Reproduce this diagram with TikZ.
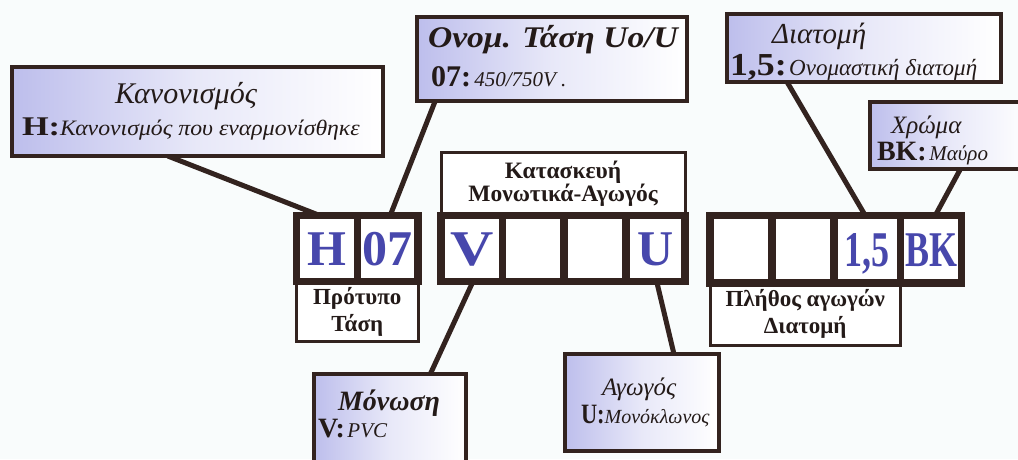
\documentclass[tikz,border=0pt]{standalone}
\usepackage{fontspec}
\usepackage{graphicx}
\setmainfont{Liberation Serif}
\newfontfamily\cellnarrow[FakeStretch=0.72]{Liberation Serif}
\usetikzlibrary{calc}
\pgfdeclarelayer{paper}
\pgfdeclarelayer{wires}
\pgfsetlayers{paper,wires,main}

\definecolor{ink}{HTML}{231A18}
\definecolor{frame}{HTML}{33231F}
\definecolor{lav}{HTML}{BDBEEC}
\definecolor{letter}{HTML}{4747AC}
\definecolor{sheet}{HTML}{F9FCFC}

% font size and baseline skip
\newcommand{\fsk}[2]{\fontsize{#1}{#2}\selectfont}
\newcommand{\fs}[1]{\fontsize{#1}{#1}\selectfont}
% horizontal stretch of a piece of text
\newcommand{\hs}[2]{\scalebox{#1}[1]{#2}}

\begin{document}
\begin{tikzpicture}[x=1pt,y=-1pt,
  every node/.style={outer sep=0pt, inner sep=0pt},
  callout/.style={draw=frame, line width=4pt, left color=lav, right color=white,
    middle color=lav!35!white, anchor=north west},
  cell/.style={draw=frame, line width=7.5pt, fill=white, anchor=north west,
    text=letter, font=\fs{50}\bfseries, text height=34pt, text depth=0pt},
  narrowcell/.style={cell, font=\fs{50}\cellnarrow\bfseries},
  caption/.style={draw=frame, line width=3pt, fill=white, anchor=north west,
    align=center, text=ink, font=\fsk{23}{27}\bfseries},
  tightcaption/.style={caption, font=\fsk{23.5}{21}\bfseries},
  title/.style={anchor=base west, text=ink, font=\fs{28}\itshape},
  entry/.style={anchor=base west, text=ink},
  link/.style={draw=frame, line width=5pt},
]
\useasboundingbox (0,0) rectangle (1018,459);
\begin{pgfonlayer}{paper}
  \fill[sheet] (0,0) rectangle (1018,459);
\end{pgfonlayer}
\clip (0,0) rectangle (1018,459);

% ---- callout boxes ----
\node[callout, minimum width=371, minimum height=89] (kan)   at (12,67)  {};
\node[callout, minimum width=270, minimum height=84] (onom)  at (416.5,16.5) {};
\node[callout, minimum width=274, minimum height=68] (diat)  at (726.5,13.5) {};
\node[callout, minimum width=160, minimum height=67] (chrom) at (869.5,101.5) {};
\node[callout, minimum width=152, minimum height=100] (mon)  at (313.5,373.5) {};
\node[callout, minimum width=154, minimum height=97] (agog)  at (564.5,353.5) {};

\node[title, anchor=base, font=\fs{30}\itshape] (kanT) at (186,103) {Κανονισμός};
\node[entry] (kanL) at (22,135) {\hs{1.27}{\fs{27}\bfseries H:}\hs{1.08}{\fs{22}\itshape Κανονισμός που εναρμονίσθηκε}};

\node[title, font=\fs{30}\bfseries\itshape] (onomT) at (428,47) {\hs{1.12}{Ονομ. Τάση Uo/U}};
\node[entry] (onomL) at (431,86) {{\fs{30}\bfseries 07:} {\fs{21}\itshape 450/750V .}};

\node[title, font=\fs{29}\itshape] (diatT) at (772,43) {Διατομή};
\node[entry] (diatL) at (730,75) {\hs{1.12}{\fs{32}\bfseries 1,5:} {\fs{23}\itshape Ονομαστική διατομή}};

\node[title, font=\fs{25}\itshape] (chromT) at (891,133) {Χρώμα};
\node[entry] (chromL) at (877,160) {{\fs{28}\bfseries BK:} {\fs{21}\itshape Μαύρο}};

\node[title, font=\fs{28}\bfseries\itshape] (monT) at (338,410) {Μόνωση};
\node[entry] (monL) at (318,437) {{\fs{28}\bfseries V:} {\fs{21}\itshape PVC}};

\node[title, font=\fs{25}\itshape] (agogT) at (602,395) {Αγωγός};
\node[entry] (agogL) at (581,423) {\hs{0.8}{\fs{28}\bfseries U:}{\fs{20}\itshape Μονόκλωνος}};

% ---- captions of the code groups ----
\node[caption, minimum width=121.5, minimum height=60] (capA) at (296.5,281.5) {Πρότυπο\\Τάση};
\node[tightcaption, minimum width=244, minimum height=63.5] (capB) at (441,152) {Κατασκευή\\Μονωτικά-Αγωγός};
\node[caption, minimum width=190.5, minimum height=62] (capC) at (710,283) {Πλήθος αγωγών\\Διατομή};

% ---- code cells ----
\node[cell, minimum width=61,   minimum height=66] (cH)  at (296.5,215.5) {H};
\node[cell, minimum width=60.5, minimum height=66] (c07) at (357.5,215.5) {07};

\node[cell, minimum width=61.5, minimum height=66] (cV)  at (441,215.5)   {\hs{1.2}{V}};
\node[cell, minimum width=61.5, minimum height=66] (cB2) at (502.5,215.5) {};
\node[cell, minimum width=62,   minimum height=66] (cB3) at (564,215.5)   {};
\node[cell, minimum width=59,   minimum height=66] (cU)  at (626,215.5)   {U};

\node[narrowcell, minimum width=62,   minimum height=67.5] (cN1) at (710,215.5)   {};
\node[narrowcell, minimum width=62,   minimum height=67.5] (cN2) at (772,215.5)   {};
\node[narrowcell, minimum width=66.5, minimum height=67.5] (cS)  at (834,215.5)   {1,5};
\node[narrowcell, minimum width=61,   minimum height=67.5] (cBK) at (900.5,215.5) {BK};

% ---- leader lines ----
\begin{pgfonlayer}{wires}
  \draw[link] ($(kan.south west)!0.42!(kan.south east)$) -- ($(cH.north west)!0.38!(cH.north east)$);
  \draw[link] ($(onom.south west)!0.07!(onom.south east)$) -- ($(c07.north west)!0.54!(c07.north east)$);
  \draw[link] ($(diat.south west)!0.22!(diat.south east)$) -- ($(cS.north west)!0.47!(cS.north east)$);
  \draw[link] ($(chrom.south west)!0.57!(chrom.south east)$) -- ($(cBK.north west)!0.57!(cBK.north east)$);
  \draw[link] ($(cV.south west)!0.52!(cV.south east)$) -- ($(mon.north west)!0.77!(mon.north east)$);
  \draw[link] ($(cU.south west)!0.52!(cU.south east)$) -- ($(agog.north west)!0.71!(agog.north east)$);
\end{pgfonlayer}
\end{tikzpicture}
\end{document}
